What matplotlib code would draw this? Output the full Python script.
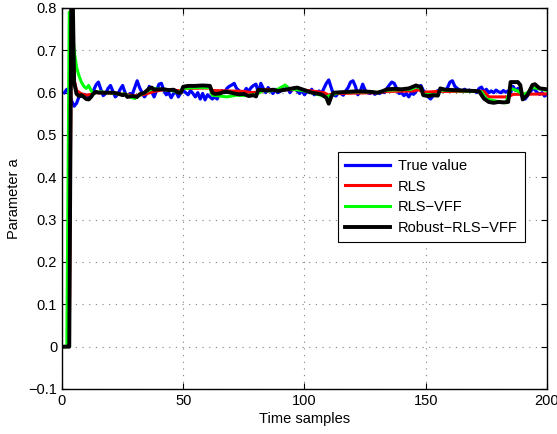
import numpy as np
import matplotlib
matplotlib.use('Agg')
import matplotlib.pyplot as plt

plt.rcParams['font.family'] = ['Liberation Sans', 'DejaVu Sans']

# True parameter value, one value per sample (t = 1..200)
t_true = list(range(1, 201))
a_true = [0.600, 0.608, 0.598, 0.580, 0.568, 0.575, 0.590, 0.592, 0.596, 0.594,
          0.585, 0.590, 0.605, 0.618, 0.625, 0.608, 0.593, 0.598, 0.610, 0.617,
          0.603, 0.590, 0.596, 0.608, 0.617, 0.600, 0.590, 0.598, 0.596, 0.612,
          0.628, 0.612, 0.600, 0.590, 0.598, 0.615, 0.602, 0.590, 0.605, 0.620,
          0.622, 0.605, 0.595, 0.600, 0.588, 0.598, 0.602, 0.590, 0.600, 0.605,
          0.600, 0.595, 0.605, 0.598, 0.590, 0.600, 0.585, 0.598, 0.583, 0.595,
          0.590, 0.585, 0.590, 0.585, 0.598, 0.605, 0.600, 0.610, 0.615, 0.618,
          0.622, 0.610, 0.605, 0.598, 0.600, 0.610, 0.603, 0.612, 0.617, 0.620,
          0.600, 0.622, 0.610, 0.600, 0.612, 0.605, 0.598, 0.608, 0.600, 0.603,
          0.610, 0.606, 0.613, 0.600, 0.608, 0.612, 0.604, 0.598, 0.606, 0.595,
          0.603, 0.600, 0.608, 0.595, 0.600, 0.604, 0.598, 0.610, 0.622, 0.630,
          0.612, 0.595, 0.592, 0.600, 0.598, 0.594, 0.604, 0.612, 0.625, 0.628,
          0.615, 0.595, 0.603, 0.620, 0.606, 0.600, 0.598, 0.602, 0.596, 0.600,
          0.598, 0.603, 0.600, 0.610, 0.618, 0.625, 0.622, 0.610, 0.598, 0.600,
          0.593, 0.598, 0.590, 0.600, 0.596, 0.603, 0.612, 0.617, 0.605, 0.600,
          0.590, 0.585, 0.592, 0.600, 0.605, 0.603, 0.608, 0.605, 0.612, 0.625,
          0.628, 0.615, 0.610, 0.606, 0.603, 0.608, 0.604, 0.606, 0.603, 0.605,
          0.600, 0.610, 0.613, 0.602, 0.608, 0.600, 0.604, 0.600, 0.606, 0.602,
          0.600, 0.605, 0.601, 0.604, 0.600, 0.615, 0.605, 0.610, 0.598, 0.590,
          0.585, 0.593, 0.600, 0.610, 0.607, 0.600, 0.596, 0.600, 0.592, 0.596]

# RLS estimate
t_rls = [1, 3, 4, 5, 6, 8, 10, 12, 14, 18, 22, 26, 30, 34, 38, 42, 46, 49, 50,
         61, 62, 75, 78, 82, 84, 98, 103, 108, 110, 112, 130, 134, 145, 147,
         149, 156, 174, 176, 184, 186, 200]
a_rls = [0, 0, 0.9, 0.63, 0.605, 0.597, 0.594, 0.596, 0.6, 0.6, 0.598, 0.596,
         0.592, 0.596, 0.603, 0.607, 0.606, 0.604, 0.61, 0.611, 0.605, 0.603,
         0.6, 0.602, 0.607, 0.607, 0.604, 0.6, 0.594, 0.598, 0.6, 0.603, 0.604,
         0.607, 0.601, 0.603, 0.603, 0.59, 0.59, 0.596, 0.597]

# RLS with variable forgetting factor
t_vff = [1, 2, 3, 4, 5, 6, 7, 8, 9, 10, 11, 12, 13, 14, 16, 18, 20, 22, 24, 26,
         28, 30, 32, 34, 36, 38, 40, 42, 44, 46, 48, 50, 55, 61, 62, 65, 68, 72,
         76, 80, 83, 86, 89, 92, 94, 97, 100, 103, 106, 109, 111, 114, 120, 126,
         130, 134, 140, 144, 146, 148, 149, 155, 156, 165, 173, 175, 179, 183,
         185, 188, 190, 192, 194, 196, 200]
a_vff = [0, 0, 0.79, 0.76, 0.70, 0.66, 0.64, 0.625, 0.615, 0.61, 0.617, 0.605,
         0.598, 0.6, 0.602, 0.6, 0.6, 0.598, 0.596, 0.597, 0.59, 0.586, 0.594,
         0.6, 0.606, 0.61, 0.608, 0.607, 0.606, 0.604, 0.6, 0.61, 0.612, 0.612,
         0.594, 0.592, 0.59, 0.594, 0.593, 0.596, 0.605, 0.604, 0.608, 0.618,
         0.608, 0.607, 0.604, 0.6, 0.595, 0.59, 0.594, 0.6, 0.602, 0.602, 0.6,
         0.606, 0.607, 0.608, 0.614, 0.61, 0.596, 0.595, 0.606, 0.604, 0.602,
         0.585, 0.58, 0.576, 0.61, 0.604, 0.595, 0.6, 0.612, 0.61, 0.605]

# Robust RLS with variable forgetting factor
t_rob = [1, 2, 3, 4, 5, 6, 7, 8, 9, 10, 11, 12, 13, 14, 15, 17, 19, 21, 23, 25,
         26, 27, 29, 31, 32, 34, 35, 36, 37, 38, 40, 42, 44, 46, 48, 49, 50, 52,
         55, 58, 61, 62, 63, 65, 67, 69, 71, 73, 75, 77, 79, 80, 81, 83, 85, 87,
         89, 91, 93, 95, 97, 99, 101, 103, 105, 107, 109, 110, 111, 112, 115,
         118, 121, 124, 127, 130, 132, 134, 137, 140, 143, 146, 148, 149, 151,
         153, 155, 156, 158, 162, 166, 170, 172, 174, 176, 178, 180, 182, 184,
         185, 188, 189, 190, 192, 194, 195, 197, 200]
a_rob = [0, 0, 0, 0.98, 0.625, 0.597, 0.592, 0.594, 0.59, 0.585, 0.584, 0.59,
         0.598, 0.602, 0.6, 0.6, 0.6, 0.6, 0.598, 0.594, 0.596, 0.59, 0.592,
         0.59, 0.596, 0.6, 0.605, 0.61, 0.612, 0.607, 0.608, 0.608, 0.606,
         0.607, 0.6, 0.6, 0.614, 0.616, 0.616, 0.617, 0.616, 0.6, 0.597, 0.598,
         0.602, 0.601, 0.598, 0.596, 0.597, 0.592, 0.594, 0.591, 0.607, 0.606,
         0.605, 0.607, 0.604, 0.606, 0.608, 0.61, 0.612, 0.608, 0.604, 0.6,
         0.598, 0.596, 0.588, 0.574, 0.59, 0.6, 0.601, 0.602, 0.603, 0.603,
         0.602, 0.6, 0.603, 0.608, 0.609, 0.608, 0.61, 0.617, 0.613, 0.594,
         0.592, 0.594, 0.593, 0.61, 0.607, 0.606, 0.605, 0.604, 0.603, 0.586,
         0.578, 0.576, 0.578, 0.577, 0.578, 0.625, 0.625, 0.618, 0.584, 0.595,
         0.618, 0.62, 0.61, 0.608]

fig = plt.figure(figsize=(5.57, 4.34), dpi=100)
ax = fig.add_axes([0.1113, 0.1037, 0.8707, 0.8779])

ax.plot(t_true, a_true, color='#0000ff', lw=2.3, label='True value')
ax.plot(t_rls, a_rls, color='#ff0000', lw=2.2, label='RLS')
ax.plot(t_vff, a_vff, color='#00ff00', lw=2.2, label='RLS\u2212VFF')
ax.plot(t_rob, a_rob, color='#000000', lw=2.8, label='Robust\u2212RLS\u2212VFF')

ax.set_xlim(0, 200)
ax.set_ylim(-0.1, 0.8)
ax.set_xticks([0, 50, 100, 150, 200])
ax.set_yticks(np.arange(-0.1, 0.81, 0.1))
ax.set_yticklabels(['\u22120.1', '0', '0.1', '0.2', '0.3', '0.4', '0.5', '0.6', '0.7', '0.8'])
ax.tick_params(direction='in', top=True, right=True, length=4, width=0.8,
               labelsize=10.5, colors='black')
ax.grid(True, color='#808080', linestyle=(0, (1, 5)), linewidth=0.8)
for s in ax.spines.values():
    s.set_linewidth(1.0)

ax.set_xlabel('Time samples', fontsize=10.5, labelpad=3)
ax.set_ylabel('Parameter a', fontsize=10.5, labelpad=5)

leg = ax.legend(loc='lower left', bbox_to_anchor=(0.569, 0.386), fontsize=10.5,
                fancybox=False, framealpha=1, edgecolor='black', borderaxespad=0,
                handlelength=3.1, handletextpad=0.5, labelspacing=0.45,
                borderpad=0.5)
leg.get_frame().set_linewidth(0.8)

plt.savefig('out.png', dpi=100)
